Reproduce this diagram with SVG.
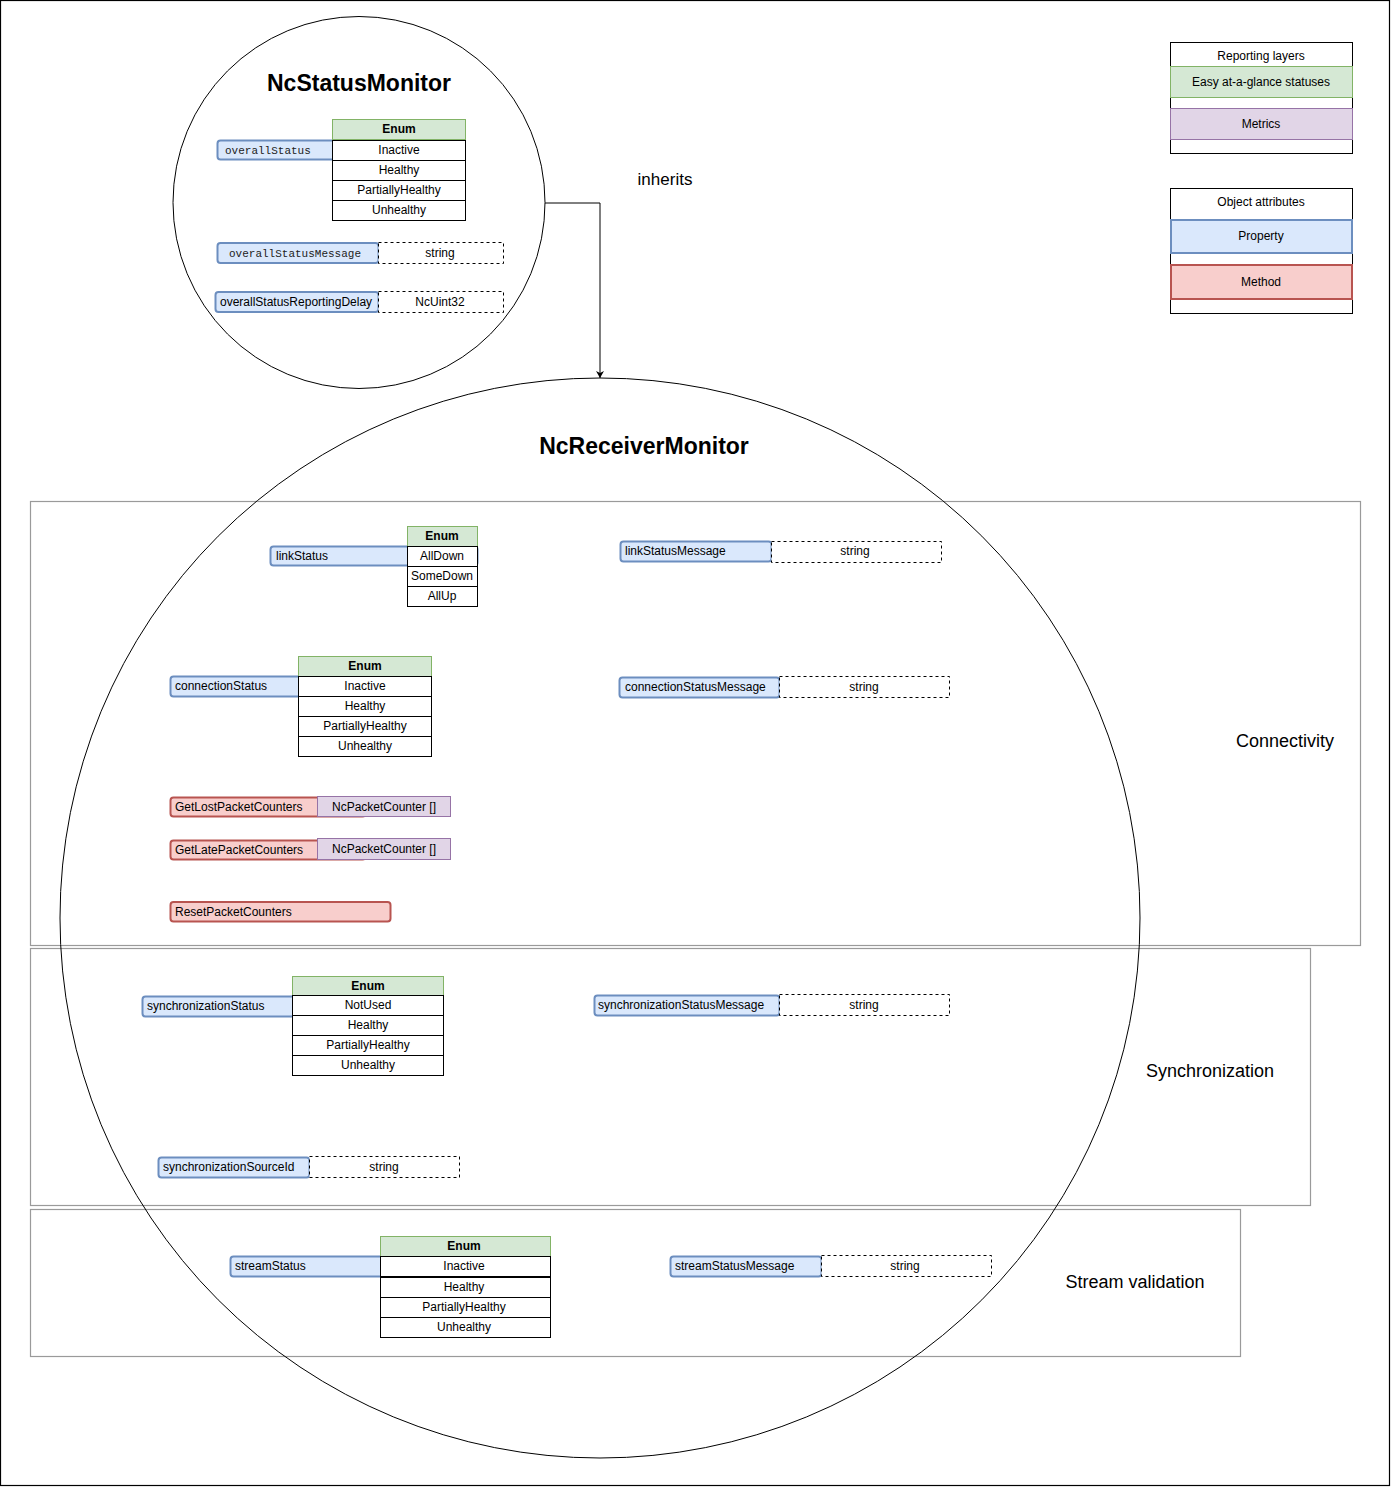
<svg xmlns="http://www.w3.org/2000/svg" width="1391" height="1487" viewBox="0 0 1391 1487">
<style>
text{font-family:"Liberation Sans",Arial,sans-serif;font-size:12px;fill:#000}
.c{text-anchor:middle}
.mono{font-family:"Liberation Mono","Courier New",monospace;font-size:11px;fill:#222}
.prop{fill:#dae8fc;stroke:#6c8ebf;stroke-width:2}
.meth{fill:#f8cecc;stroke:#b85450;stroke-width:2}
.hdr{fill:#d5e8d4;stroke:#82b366;stroke-width:1}
.row{fill:#fff;stroke:#000;stroke-width:1}
.dash{fill:#fff;stroke:#000;stroke-width:1;stroke-dasharray:3 3}
.metric{fill:#e1d5e7;stroke:#9673a6;stroke-width:1}
.layer{fill:none;stroke:#9a9a9a;stroke-width:1.2}
.b{font-weight:bold}
.title{font-size:23px;font-weight:bold}
.lbl{font-size:18px}
</style>
<defs>
<marker id="arr" markerWidth="10" markerHeight="10" refX="8" refY="5" orient="auto" markerUnits="userSpaceOnUse" viewBox="0 0 10 10">
<path d="M1,1 L8,5 L1,9 L3,5 Z" fill="#000"/>
</marker>
</defs>
<rect x="0.5" y="0.5" width="1389" height="1485" fill="#fff" stroke="#000" stroke-width="1.2"/>

<g id="layer-connectivity"><rect class="layer" x="30.5" y="501.5" width="1330" height="444"/><text class="lbl c" x="1285" y="747">Connectivity</text></g>
<g id="layer-synchronization"><rect class="layer" x="30.5" y="948.5" width="1280" height="257"/><text class="lbl c" x="1210" y="1077">Synchronization</text></g>
<g id="layer-stream"><rect class="layer" x="30.5" y="1209.5" width="1210" height="147"/><text class="lbl c" x="1135" y="1288">Stream validation</text></g>

<g id="connectors">
<path d="M545,203 H600 V378" fill="none" stroke="#000" stroke-width="1" marker-end="url(#arr)"/>
<text class="lbl c" x="665" y="185" style="font-size:17px">inherits</text>
</g>

<g id="NcStatusMonitor">
<circle cx="359" cy="202.5" r="186" fill="none" stroke="#000" stroke-width="1"/>
<text class="title c" x="359" y="91">NcStatusMonitor</text>
</g>
<g id="overallStatus">
<rect class="prop" x="217.5" y="140.5" width="150" height="19" rx="3"/>
<text class="mono" x="225" y="154">overallStatus</text>
<rect class="hdr" x="332.5" y="119.5" width="133" height="20"/><text class="c b" x="399" y="133">Enum</text>
<rect class="row" x="332.5" y="140.5" width="133" height="20"/><text class="c" x="399" y="154">Inactive</text>
<rect class="row" x="332.5" y="160.5" width="133" height="20"/><text class="c" x="399" y="174">Healthy</text>
<rect class="row" x="332.5" y="180.5" width="133" height="20"/><text class="c" x="399" y="194">PartiallyHealthy</text>
<rect class="row" x="332.5" y="200.5" width="133" height="20"/><text class="c" x="399" y="214">Unhealthy</text>
</g>
<g id="overallStatusMessage">
<rect class="prop" x="217.5" y="243" width="161" height="20" rx="3"/>
<text class="mono" x="229" y="257">overallStatusMessage</text>
<rect class="dash" x="378.5" y="242.5" width="125" height="21"/><text class="c" x="440" y="257">string</text>
</g>
<g id="overallStatusReportingDelay">
<rect class="prop" x="215.5" y="292" width="163" height="20" rx="3"/>
<text x="220" y="306">overallStatusReportingDelay</text>
<rect class="dash" x="378.5" y="291.5" width="125" height="21"/><text class="c" x="440" y="306">NcUint32</text>
</g>

<g id="NcReceiverMonitor">
<circle cx="600" cy="918" r="540" fill="none" stroke="#000" stroke-width="1"/>
<text class="title c" x="644" y="454">NcReceiverMonitor</text>
</g>

<g id="linkStatus">
<rect class="prop" x="270.5" y="546.5" width="207" height="19" rx="3"/>
<text x="276" y="560">linkStatus</text>
<rect class="hdr" x="407.5" y="526.5" width="70" height="20"/><text class="c b" x="442" y="540">Enum</text>
<rect class="row" x="407.5" y="546.5" width="70" height="20"/><text class="c" x="442" y="560">AllDown</text>
<rect class="row" x="407.5" y="566.5" width="70" height="20"/><text class="c" x="442" y="580">SomeDown</text>
<rect class="row" x="407.5" y="586.5" width="70" height="20"/><text class="c" x="442" y="600">AllUp</text>
</g>
<g id="linkStatusMessage">
<rect class="prop" x="620.5" y="541.5" width="151" height="20" rx="3"/>
<text x="625" y="555">linkStatusMessage</text>
<rect class="dash" x="771.5" y="541.5" width="170" height="21"/><text class="c" x="855" y="555">string</text>
</g>
<g id="connectionStatus">
<rect class="prop" x="170.5" y="676.5" width="150" height="20" rx="3"/>
<text x="175" y="690">connectionStatus</text>
<rect class="hdr" x="298.5" y="656.5" width="133" height="20"/><text class="c b" x="365" y="670">Enum</text>
<rect class="row" x="298.5" y="676.5" width="133" height="20"/><text class="c" x="365" y="690">Inactive</text>
<rect class="row" x="298.5" y="696.5" width="133" height="20"/><text class="c" x="365" y="710">Healthy</text>
<rect class="row" x="298.5" y="716.5" width="133" height="20"/><text class="c" x="365" y="730">PartiallyHealthy</text>
<rect class="row" x="298.5" y="736.5" width="133" height="20"/><text class="c" x="365" y="750">Unhealthy</text>
</g>
<g id="connectionStatusMessage">
<rect class="prop" x="619.5" y="677.5" width="160" height="20" rx="3"/>
<text x="625" y="691">connectionStatusMessage</text>
<rect class="dash" x="779.5" y="676.5" width="170" height="21"/><text class="c" x="864" y="691">string</text>
</g>
<g id="GetLostPacketCounters">
<rect class="meth" x="170.5" y="797.5" width="195" height="19" rx="3"/>
<text x="175" y="811">GetLostPacketCounters</text>
<rect class="metric" x="317.5" y="796.5" width="133" height="20"/><text class="c" x="384" y="811">NcPacketCounter []</text>
</g>
<g id="GetLatePacketCounters">
<rect class="meth" x="170.5" y="840.5" width="195" height="19" rx="3"/>
<text x="175" y="854">GetLatePacketCounters</text>
<rect class="metric" x="317.5" y="838.5" width="133" height="21"/><text class="c" x="384" y="853">NcPacketCounter []</text>
</g>
<g id="ResetPacketCounters">
<rect class="meth" x="170.5" y="902" width="220" height="19.5" rx="3"/>
<text x="175" y="916">ResetPacketCounters</text>
</g>

<g id="synchronizationStatus">
<rect class="prop" x="142.5" y="996.5" width="170" height="20" rx="3"/>
<text x="147" y="1010">synchronizationStatus</text>
<rect class="hdr" x="292.5" y="976.5" width="151" height="19"/><text class="c b" x="368" y="990">Enum</text>
<rect class="row" x="292.5" y="995.5" width="151" height="20"/><text class="c" x="368" y="1009">NotUsed</text>
<rect class="row" x="292.5" y="1015.5" width="151" height="20"/><text class="c" x="368" y="1029">Healthy</text>
<rect class="row" x="292.5" y="1035.5" width="151" height="20"/><text class="c" x="368" y="1049">PartiallyHealthy</text>
<rect class="row" x="292.5" y="1055.5" width="151" height="20"/><text class="c" x="368" y="1069">Unhealthy</text>
</g>
<g id="synchronizationStatusMessage">
<rect class="prop" x="594.5" y="995.5" width="185" height="20" rx="3"/>
<text x="598" y="1009">synchronizationStatusMessage</text>
<rect class="dash" x="779.5" y="994.5" width="170" height="21"/><text class="c" x="864" y="1009">string</text>
</g>
<g id="synchronizationSourceId">
<rect class="prop" x="158.5" y="1157.5" width="151" height="20" rx="3"/>
<text x="163" y="1171">synchronizationSourceId</text>
<rect class="dash" x="309.5" y="1156.5" width="150" height="21"/><text class="c" x="384" y="1171">string</text>
</g>

<g id="streamStatus">
<rect class="prop" x="230.5" y="1256.5" width="160" height="20" rx="3"/>
<text x="235" y="1270">streamStatus</text>
<rect class="hdr" x="380.5" y="1236.5" width="170" height="20"/><text class="c b" x="464" y="1250">Enum</text>
<rect class="row" x="380.5" y="1256.5" width="170" height="20"/><text class="c" x="464" y="1270">Inactive</text>
<rect class="row" x="380.5" y="1277.5" width="170" height="20"/><text class="c" x="464" y="1291">Healthy</text>
<rect class="row" x="380.5" y="1297.5" width="170" height="20"/><text class="c" x="464" y="1311">PartiallyHealthy</text>
<rect class="row" x="380.5" y="1317.5" width="170" height="20"/><text class="c" x="464" y="1331">Unhealthy</text>
</g>
<g id="streamStatusMessage">
<rect class="prop" x="670.5" y="1256.5" width="151" height="20" rx="3"/>
<text x="675" y="1270">streamStatusMessage</text>
<rect class="dash" x="821.5" y="1255.5" width="170" height="21"/><text class="c" x="905" y="1270">string</text>
</g>

<g id="legend-reporting">
<rect x="1170.5" y="42.5" width="182" height="111" fill="#fff" stroke="#000" stroke-width="1"/>
<text class="c" x="1261" y="60">Reporting layers</text>
<rect class="hdr" x="1170.5" y="66.5" width="182" height="31"/><text class="c" x="1261" y="86">Easy at-a-glance statuses</text>
<rect class="metric" x="1170.5" y="108.5" width="182" height="31"/><text class="c" x="1261" y="128">Metrics</text>
</g>
<g id="legend-attributes">
<rect x="1170.5" y="188.5" width="182" height="125" fill="#fff" stroke="#000" stroke-width="1"/>
<text class="c" x="1261" y="206">Object attributes</text>
<rect class="prop" x="1171" y="220" width="181" height="33"/><text class="c" x="1261" y="240">Property</text>
<rect class="meth" x="1171" y="265" width="181" height="34"/><text class="c" x="1261" y="286">Method</text>
</g>
</svg>
